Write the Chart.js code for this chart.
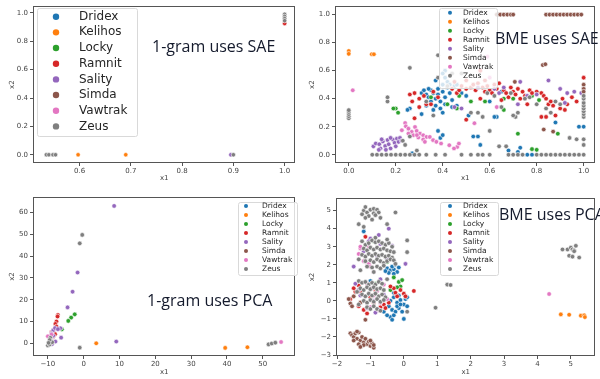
<!DOCTYPE html>
<html><head><meta charset="utf-8">
<script src="https://cdn.jsdelivr.net/npm/chart.js@4/dist/chart.umd.min.js"></script>
<style>
body{margin:0;background:#fff;width:600px;height:379px;overflow:hidden;position:relative}
canvas{position:absolute}
</style></head><body>
<canvas id="c1" width="300" height="190" style="left:0;top:0"></canvas>
<canvas id="c2" width="300" height="190" style="left:300px;top:0"></canvas>
<canvas id="c3" width="300" height="189" style="left:0;top:190px"></canvas>
<canvas id="c4" width="300" height="189" style="left:300px;top:190px"></canvas>
<script>
const classes = ['Dridex','Kelihos','Locky','Ramnit','Sality','Simda','Vawtrak','Zeus'];
const colors = ['#1f77b4','#ff7f0e','#2ca02c','#d62728','#9467bd','#8c564b','#e377c2','#7f7f7f'];
const titles = ['1-gram uses SAE','BME uses SAE','1-gram uses PCA','BME uses PCA'];

// ---------- Panel 1: 1-gram uses SAE ----------
const p1Dridex = [];
const p1Kelihos = [[0.597,0],[0.69,0]];
const p1Locky = [];
const p1Ramnit = [[1,0.925]];
const p1Sality = [[0.895,0]];
const p1Simda = [];
const p1Vawtrak = [];
const p1Zeus = [[0.535,0],[0.54,0],[0.548,0],[0.553,0],[0.9,0],[1,0.99],[1,0.975],[1,0.96],[1,0.945]];
const p1XTicks = [0.6,0.7,0.8,0.9,1.0];
const p1YTicks = [0.0,0.2,0.4,0.6,0.8,1.0];

// ---------- Panel 2: BME uses SAE ----------
const p2Dridex = [[0.31,0.44],[0.32,0.46],[0.33,0.43],[0.34,0.41],[0.35,0.46],[0.35,0.38],[0.36,0.44],[0.37,0.4],[0.37,0.35],[0.38,0.47],[0.38,0.43],[0.39,0.38],[0.39,0.33],[0.4,0.5],[0.4,0.45],[0.41,0.41],[0.41,0.36],[0.42,0.48],[0.42,0.52],[0.43,0.44],[0.43,0.5],[0.44,0.39],[0.45,0.49],[0.46,0.5],[0.36,0.32],[0.33,0.35],[0.4,0.3],[0.44,0.34],[0.46,0.35],[0.41,0.55],[0.34,0.47],[0.48,0.44],
  [0.38,0.17],[0.39,0.12],[0.4,0.14],[0.37,0.53],[0.55,0.13],[0.53,0.13],[0.56,0.07],[0.26,0.33],[0.25,0.32],[0.27,0.01],[0.31,0.29],[0.73,0.05],[0.72,0.02],[0.68,0.03],[0.98,0.2],[1.0,0.2],[0.88,0.23],[0.63,0.27],[0.62,0.27],[0.51,0.28],[0.5,0.42],[0.6,0.38],[0.65,0.45],[0.78,0.0],[0.76,0.0],[0.41,0.6],[0.4,0.58]];
const p2Kelihos = [[0,0.74],[0,0.72],[0.098,0.717],[0.107,0.717]];
const p2Locky = [[0.2,0.33],[0.21,0.3],[0.19,0.33],[0.42,0.36],[0.46,0.33],[0.52,0.38],[0.58,0.38],[0.66,0.32],[0.66,0.4],[0.7,0.4],[0.72,0.15],[0.78,0.04],[0.8,0.035],[0.81,0.39],[0.78,0.42],[0.35,0.41],[0.47,0.42],[0.89,0.15]];
const p2Ramnit = [[0.26,0.43],[0.28,0.44],[0.3,0.4],[0.27,0.38],[0.32,0.42],[0.33,0.36],[0.28,0.26],[0.3,0.34],[0.36,0.45],[0.38,0.41],[0.44,0.47],[0.46,0.44],[0.47,0.46],[0.48,0.49],[0.5,0.47],[0.52,0.48],[0.53,0.5],[0.54,0.46],[0.55,0.51],[0.57,0.48],[0.58,0.45],[0.59,0.49],[0.6,0.46],[0.61,0.44],[0.62,0.5],[0.63,0.47],[0.64,0.51],[0.66,0.46],[0.67,0.44],[0.68,0.41],[0.69,0.48],[0.7,0.45],[0.71,0.43],[0.72,0.47],[0.74,0.45],[0.75,0.42],[0.77,0.46],[0.78,0.44],[0.8,0.45],[0.82,0.44],[0.83,0.42],[0.84,0.4],[0.85,0.36],[0.86,0.38],[0.87,0.35],[0.9,0.33],[0.91,0.4],[0.93,0.36],[0.95,0.41],[0.97,0.38],[1.0,0.55],[0.82,0.27],[0.84,0.27],[0.45,0.52],[0.5,0.53],[0.56,0.4],[0.58,0.53],[0.92,0.32],[0.88,0.28],[0.76,0.36],[0.5,0.25],[0.35,0.36],[0.65,0.39],[0.73,0.4],[0.56,0.6]];
const p2Sality = [[0.105,0.06],[0.115,0.08],[0.13,0.075],[0.135,0.045],[0.145,0.095],[0.155,0.062],[0.165,0.105],[0.17,0.075],[0.178,0.045],[0.188,0.108],[0.195,0.085],[0.205,0.115],[0.212,0.092],[0.218,0.12],[0.2,0.06],[0.158,0.035],[0.14,0.11],[0.178,0.12],[0.225,0.1],[0.128,0.035],
  [0.73,0.52],[0.76,0.42],[0.72,0.36],[0.85,0.53],[0.9,0.47],[0.96,0.45],[0.93,0.44],[0.64,0.44],[0.62,0.47],[0.66,0.48],[0.99,0.44],[0.45,0.34],[0.48,0.33],[0.55,0.48],[0.92,0.37],[0.8,0.43],[1.0,0.47]];
const p2Simda = [[0.63,1],[0.645,1],[0.66,1],[0.675,1],[0.69,1],[0.7,1],[0.84,1],[0.855,1],[0.87,1],[0.885,1],[0.9,1],[0.915,1],[0.93,1],[0.945,1],[0.96,1],[0.975,1],[0.99,1],[0.826,0.64],[0.837,0.646],[0.707,0.52],[0.83,0.18],[0.87,0.165],[1.0,0.5],[1.0,0.47],[1.0,0.45]];
const p2Vawtrak = [[0.017,0.46],[0.24,0.226],[0.243,0.203],[0.226,0.175],[0.254,0.186],[0.268,0.163],[0.282,0.198],[0.289,0.17],[0.303,0.151],[0.317,0.139],[0.331,0.127],[0.254,0.151],[0.275,0.139],[0.296,0.123],[0.317,0.109],[0.345,0.127],[0.359,0.104],[0.373,0.092],[0.324,0.092],[0.393,0.08],[0.428,0.068],[0.462,0.056],[0.448,0.045],[0.469,0.08],[0.63,0.34],[0.535,0.225],[0.59,0.7],[0.6,0.55],[0.29,0.14]];
const p2Zeus = [[0,0.26],[0,0.275],[0,0.29],[0,0.305],[0,0.318],[0.165,0.38],[0.165,0.41],[0.26,0.62],[0.38,0.71],
  [0.1,0],[0.12,0],[0.14,0],[0.16,0],[0.18,0],[0.2,0],[0.22,0],[0.24,0],[0.26,0],[0.28,0],[0.3,0],[0.33,0],[0.37,0],[0.41,0],[0.48,0],[0.52,0],[0.55,0],[0.57,0],[0.6,0],[0.68,0],[0.7,0],[0.72,0],[0.74,0],[0.8,0],[0.82,0],[0.84,0],[0.86,0],[0.88,0],[0.9,0],[0.92,0],[0.94,0],[0.96,0],[0.98,0],[1.0,0],
  [1,0.07],[1,0.11],[1,0.27],[1,0.29],[1,0.31],[1,0.33],[1,0.35],[1,0.37],[1,0.4],[1,0.42],
  [0.23,0.1],[0.24,0.07],[0.26,0.13],[0.29,0.03],[0.36,0.28],[0.33,0.38],[0.38,0.55],[0.42,0.49],[0.44,0.58],[0.48,0.58],[0.52,0.3],[0.55,0.3],[0.57,0.27],[0.6,0.17],[0.64,0.06],[0.67,0.06],[0.71,0.27],[0.7,0.28],[0.72,0.3],[0.75,0.4],[0.77,0.41],[0.8,0.36],[0.84,0.33],[0.86,0.3],[0.88,0.38],[0.9,0.36],[0.94,0.12],[0.97,0.11],[0.69,0.44],[0.65,0.34],[0.62,0.42],[0.59,0.44]];
const p2XTicks = [0.0,0.2,0.4,0.6,0.8,1.0];
const p2YTicks = [0.0,0.2,0.4,0.6,0.8,1.0];

// ---------- Panel 3: 1-gram uses PCA ----------
const p3Dridex = [[-9.3,1.5],[-9.0,3.0]];
const p3Kelihos = [[3.5,0],[39.5,-2.1],[45.7,-1.8]];
const p3Locky = [[-2.5,13.3],[-3.5,11.8],[-4.3,10.3],[-6.1,6.4]];
const p3Ramnit = [[-7.2,13],[-7.3,12.3],[-7.6,10],[-7.9,8.9],[-7.6,7.7],[-8.4,6.1],[-9,5],[-8.5,3],[-9.6,2.8],[-8.0,4.2]];
const p3Sality = [[8.5,63.1],[-1.7,32.5],[-3.1,23.7],[-4.5,16.5],[-6.3,2.6],[9.1,0.8],[-7.9,0.8],[-6.5,6.9],[-8.5,6],[-9,4.5],[-8,7],[-9,2.5],[-7.2,6.5],[-8.5,3.5],[-8.8,-0.3]];
const p3Simda = [[-9.2,0.3]];
const p3Vawtrak = [[55.1,0.6],[-9.5,2],[-9,4],[-10,3.2]];
const p3Zeus = [[-0.4,49.8],[-1.1,45.9],[-1.1,-2.0],[51.6,-0.5],[52.5,-0.1],[53.5,0.3],[-10,-1],[-9.5,-0.5],[-9,1],[-9.3,2.5],[-8.8,0.5],[-9.5,1.5],[-9.8,0.2]];
const p3XTicks = [-10,0,10,20,30,40,50];
const p3YTicks = [0,10,20,30,40,50,60];

// ---------- Panel 4: BME uses PCA ----------
const p4Dridex = [[-0.5,1.8],[-0.4,1.7],[-0.3,1.75],[-0.45,1.55],[-0.35,1.9],[-0.25,2.0],[-0.2,1.6],[-0.15,1.85],[-0.55,1.65],[-0.3,1.5],[-0.5,0.1],[-0.4,0.0],[-0.3,0.2],[-0.2,-0.1],[-0.1,0.05],[0.0,-0.2],[0.1,-0.3],[-0.45,-0.3],[-0.35,-0.5],[-0.25,-0.6],[-0.15,-0.4],[-0.05,-0.6],[0.05,0.1],[-0.6,-0.6],[-0.4,-0.9],[-0.3,-0.8],[-0.2,-0.3],[-0.1,-0.2],[0.0,-1.0],[0.1,0.2],[-0.5,-0.8],[-0.35,-1.05],[-1.2,3.85],[-1.0,1.1],[-0.3,0.45],[-0.15,0.3]];
const p4Kelihos = [[4.7,-0.75],[4.95,-0.77],[5.3,-0.82],[5.4,-0.8],[5.42,-0.9]];
const p4Locky = [[-0.9,3.3],[-0.5,2.15],[-0.4,0.6],[-0.1,0.8],[-0.15,1.05],[-0.05,1.15],[-0.2,0.75],[-0.85,0.95],[-0.6,0.6],[-0.3,1.3]];
const p4Ramnit = [[-1.15,3.55],[-1.6,0.1],[-1.45,0.5],[-1.5,0.7],[-1.3,0.5],[-1.35,0.85],[-1.2,-0.5],[-1.35,-0.3],[-0.9,-0.1],[-0.7,-0.35],[-0.6,-0.2],[-0.45,-0.1],[-0.3,0.7],[-0.25,0.45],[0.0,0.4],[0.05,0.25],[0.3,0.55],[-0.1,0.6],[-1.1,-0.7],[-0.55,-0.4],[-0.2,0.25],[-0.4,0.8],[-1.0,0.2],[-0.85,0.6]];
const p4Sality = [[-1.5,1.9],[-0.45,4.0],[-0.75,3.65],[-1.0,3.45],[-1.05,3.3],[-0.7,3.15],[-0.35,3.05],[0.05,2.05],[-1.45,0.95],[-1.3,0.3],[-0.9,0.0],[-0.85,-0.65],[-0.7,1.2],[-1.2,2.75],[-0.8,2.5],[-0.5,2.3],[-1.1,-0.4],[-0.6,0.35],[-1.35,0.6]];
const p4Simda = [[-1.6,-1.8],[-1.55,-1.9],[-1.5,-2.0],[-1.45,-1.8],[-1.4,-2.1],[-1.35,-1.75],[-1.3,-2.2],[-1.25,-2.0],[-1.2,-2.3],[-1.15,-2.1],[-1.1,-2.4],[-1.05,-2.25],[-1.0,-2.5],[-0.95,-2.35],[-0.9,-2.6],[-1.5,-2.2],[-1.35,-2.4],[-1.2,-2.45],[-1.0,-2.2],[-0.9,-2.45],[-1.4,-1.7],[-1.3,-2.55],[-1.65,0.1],[-1.6,-0.15],[-1.55,-0.3],[-1.15,-1.05],[-1.5,0.25],[-1.3,-0.1]];
const p4Vawtrak = [[4.35,0.38],[-1.3,2.9],[-1.35,2.6],[-1.2,2.2],[-1.05,2.05],[-1.0,1.9],[-0.9,1.6],[-1.1,0.95],[-0.95,0.7],[-0.8,0.55],[-0.9,0.3],[-0.7,-0.1],[-1.05,3.0],[-1.3,3.0],[-0.6,0.9],[-0.5,0.1],[-0.75,-0.5],[-1.0,-0.35]];
const p4Zeus = [[-1.2,5.0],[-1.15,5.2],[-1.1,4.9],[-1.0,5.05],[-0.9,5.1],[-0.8,5.05],[-0.75,4.9],[-1.25,4.8],[-1.05,4.7],[-0.9,4.85],[-0.85,4.75],[-0.7,4.6],[-1.15,4.6],[-0.25,4.9],[-1.35,4.25],[-1.2,4.1],[-0.5,4.25],[-0.95,4.5],
  [4.9,2.85],[5.0,2.95],[5.05,2.85],[5.1,2.8],[5.15,3.05],[4.95,2.5],[5.05,2.45],[5.25,2.4],[5.1,2.75],[4.75,2.85],[1.3,0.9],[1.4,0.88],[0.95,-0.38],[0.1,3.35],[0.1,2.7],[0.1,-0.6],[-0.5,1.2],
  [-1.25,3.3],[-1.15,3.1],[-1.05,3.2],[-0.95,3.35],[-0.85,3.25],[-0.75,3.3],[-0.65,3.2],[-0.55,3.1],[-0.45,3.2],[-0.35,3.0],
  [-1.2,2.9],[-1.1,2.8],[-1.0,2.95],[-0.9,2.85],[-0.8,2.95],[-0.7,2.85],[-0.6,2.9],[-0.5,2.8],[-0.4,2.75],[-0.3,2.7],
  [-1.25,2.55],[-1.15,2.45],[-1.05,2.6],[-0.95,2.5],[-0.85,2.6],[-0.75,2.5],[-0.65,2.55],[-0.55,2.45],[-0.45,2.5],[-0.35,2.4],
  [-1.15,2.2],[-1.0,2.25],[-0.9,2.15],[-0.8,2.3],[-0.7,2.2],[-0.6,2.1],[-0.5,2.2],[-0.4,2.3],[-0.3,2.25],[-0.25,2.05],
  [-1.1,1.9],[-0.95,1.85],[-0.8,1.9],[-0.7,1.8],[-0.6,1.95],[-1.3,1.7],[-0.9,1.6],[-0.5,3.4],[-0.85,3.5],[-1.35,2.3],
  [-1.35,1.1],[-1.25,1.0],[-1.15,1.05],[-1.05,0.9],[-0.95,1.0],[-0.85,0.9],[-0.75,1.05],[-0.65,0.95],
  [-1.3,0.7],[-1.2,0.6],[-1.1,0.75],[-1.0,0.65],[-0.9,0.75],[-0.8,0.65],[-0.7,0.7],[-0.6,0.6],
  [-1.25,0.35],[-1.15,0.25],[-1.05,0.4],[-0.95,0.3],[-0.85,0.4],[-0.75,0.25],[-0.65,0.35],[-0.55,0.2],
  [-1.2,0.0],[-1.1,-0.1],[-1.0,0.05],[-0.9,-0.05],[-0.8,0.1],[-0.7,-0.05],[-0.6,0.05],
  [-1.1,-0.35],[-1.0,-0.45],[-0.9,-0.3],[-0.8,-0.45],[-0.7,-0.55],[-1.4,0.5],[-1.35,-0.2]];
const p4XTicks = [-2,-1,0,1,2,3,4,5];
const p4YTicks = [-3,-2,-1,0,1,2,3,4,5];

function fmt(v, dec){ const s = dec ? Math.abs(v).toFixed(dec) : String(Math.abs(v)); return (v < 0 ? '\u2212' : '') + s; }

function makeChart(id, series, L) {
  const datasets = series.map((pts, i) => ({
    label: classes[i],
    data: pts.map(p => ({x: p[0], y: p[1]})),
    backgroundColor: colors[i],
    borderColor: '#ffffff',
    borderWidth: 0.6,
    pointRadius: L.r,
    order: 7 - i
  }));
  const overlay = {
    id: 'overlay',
    afterDraw(chart) {
      const ctx = chart.ctx, a = chart.chartArea;
      ctx.save();
      ctx.strokeStyle = '#555'; ctx.lineWidth = 1;
      ctx.strokeRect(Math.round(a.left)+0.5, Math.round(a.top)+0.5, Math.round(a.right-a.left)-1, Math.round(a.bottom-a.top)-1);
      // legend
      const g = L.legend;
      ctx.fillStyle = 'rgba(255,255,255,0.8)';
      ctx.strokeStyle = '#d9d9d9';
      ctx.beginPath();
      ctx.roundRect(g.x+0.5, g.y+0.5, g.w, g.h, 2);
      ctx.fill(); ctx.stroke();
      ctx.font = g.fs + 'px "DejaVu Sans"';
      ctx.textBaseline = 'middle';
      classes.forEach((c, i) => {
        const yy = g.y0 + i * g.dy;
        ctx.beginPath();
        ctx.arc(g.mx, yy, g.mr, 0, Math.PI*2);
        ctx.fillStyle = colors[i]; ctx.fill();
        ctx.fillStyle = '#262626';
        ctx.fillText(c, g.tx, yy);
      });
      // annotation
      ctx.font = L.note.fs + 'px "Open Sans"';
      ctx.fillStyle = '#141a2c';
      ctx.textBaseline = 'alphabetic';
      ctx.fillText(L.note.text, L.note.x, L.note.y);
      ctx.restore();
    }
  };
  const tickFont = {family: 'DejaVu Sans', size: 7};
  return new Chart(document.getElementById(id), {
    type: 'scatter',
    data: {datasets},
    options: {
      responsive: false, animation: false, devicePixelRatio: 1,
      layout: {padding: {top: L.top, right: L.right, left: 0, bottom: 0}},
      plugins: {legend: {display: false}, tooltip: {enabled: false}},
      scales: {
        x: {
          type: 'linear', min: L.xmin, max: L.xmax,
          afterBuildTicks: s => { s.ticks = L.xt.map(v => ({value: v})); },
          afterFit: s => { s.height = L.xh; },
          grid: {drawOnChartArea: false, drawTicks: true, tickLength: 3, tickColor: '#555'},
          border: {display: false},
          ticks: {font: tickFont, color: '#444', padding: 1, maxRotation: 0, autoSkip: false, callback: v => fmt(v, L.dec)},
          title: {display: true, text: 'x1', font: tickFont, color: '#444', padding: {top: 0, bottom: L.xtp}}
        },
        y: {
          type: 'linear', min: L.ymin, max: L.ymax,
          afterBuildTicks: s => { s.ticks = L.yt.map(v => ({value: v})); },
          afterFit: s => { s.width = L.yw; },
          grid: {drawOnChartArea: false, drawTicks: true, tickLength: 3, tickColor: '#555'},
          border: {display: false},
          ticks: {font: tickFont, color: '#444', padding: 2, autoSkip: false, callback: v => fmt(v, L.dec)},
          title: {display: true, text: 'x2', font: tickFont, color: '#444', padding: {top: 8, bottom: 0}}
        }
      }
    },
    plugins: [overlay]
  });
}

makeChart('c1', [p1Dridex,p1Kelihos,p1Locky,p1Ramnit,p1Sality,p1Simda,p1Vawtrak,p1Zeus], {
  r: 2.2, top: 5, right: 2, xh: 27, yw: 33, xtp: 8, dec: 1,
  xmin: 0.509, xmax: 1.021, ymin: -0.058, ymax: 1.047, xt: p1XTicks, yt: p1YTicks,
  legend: {x: 37, y: 8, w: 100, h: 128, mx: 56, tx: 79, y0: 16.7, dy: 15.67, fs: 12, mr: 3.2},
  note: {text: titles[0], x: 152, y: 52, fs: 16}
});
makeChart('c2', [p2Dridex,p2Kelihos,p2Locky,p2Ramnit,p2Sality,p2Simda,p2Vawtrak,p2Zeus], {
  r: 2.3, top: 5, right: 0, xh: 27, yw: 35, xtp: 8, dec: 1,
  xmin: -0.0586, xmax: 1.05, ymin: -0.059, ymax: 1.06, xt: p2XTicks, yt: p2YTicks,
  legend: {x: 139, y: 8, w: 58, h: 80, mx: 150, tx: 163, y0: 12.7, dy: 9, fs: 7.5, mr: 2},
  note: {text: titles[1], x: 195, y: 44, fs: 16}
});
makeChart('c3', [p3Dridex,p3Kelihos,p3Locky,p3Ramnit,p3Sality,p3Simda,p3Vawtrak,p3Zeus], {
  r: 2.3, top: 7, right: 2, xh: 23, yw: 33, xtp: 3, dec: 0,
  xmin: -14.15, xmax: 59.1, ymin: -5.83, ymax: 67.2, xt: p3XTicks, yt: p3YTicks,
  legend: {x: 238, y: 12, w: 59, h: 73, mx: 246, tx: 262, y0: 16, dy: 9, fs: 7.5, mr: 2},
  note: {text: titles[2], x: 147, y: 116, fs: 16}
});
makeChart('c4', [p4Dridex,p4Kelihos,p4Locky,p4Ramnit,p4Sality,p4Simda,p4Vawtrak,p4Zeus], {
  r: 2.3, top: 8, right: 0, xh: 23, yw: 36, xtp: 3, dec: 0,
  xmin: -2.03, xmax: 5.735, ymin: -3.055, ymax: 5.70, xt: p4XTicks, yt: p4YTicks,
  legend: {x: 140, y: 12, w: 58, h: 73, mx: 150, tx: 163, y0: 16, dy: 9, fs: 7.5, mr: 2},
  note: {text: titles[3], x: 199, y: 30, fs: 16}
});
</script>
</body></html>
